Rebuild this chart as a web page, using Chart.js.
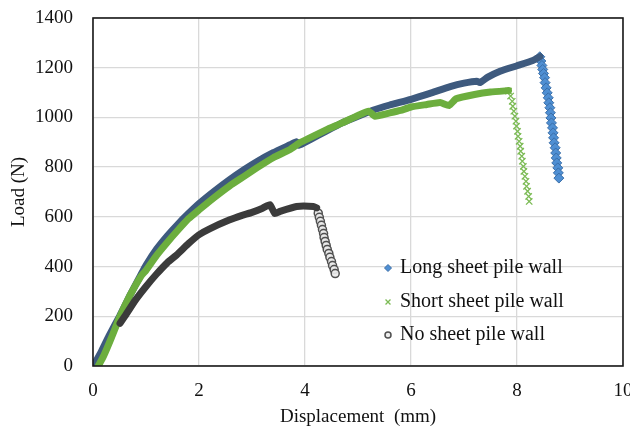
<!DOCTYPE html>
<html>
<head>
<meta charset="utf-8">
<script src="https://cdn.jsdelivr.net/npm/chart.js@4.4.1/dist/chart.umd.min.js"></script>
<style>
  html, body { margin: 0; padding: 0; background: #fff; }
  #wrap { width: 630px; height: 431px; position: relative; }
</style>
</head>
<body>
<div id="wrap"><canvas id="grafico"></canvas></div>
<script>
const xTicks = [0, 2, 4, 6, 8, 10];
const yTicks = [0, 200, 400, 600, 800, 1000, 1200, 1400];
const seriesNames = ['Long sheet pile wall', 'Short sheet pile wall', 'No sheet pile wall'];

// [displacement mm, load N]
const longBand = [[0.02, 5], [0.15, 55], [0.3, 120], [0.5, 200], [0.7, 285], [0.9, 365], [1.0, 405],
  [1.2, 470], [1.4, 523], [1.6, 570], [1.8, 613], [2.0, 653], [2.3, 705], [2.58, 750], [2.85, 790],
  [3.09, 822], [3.4, 858], [3.72, 890], [3.84, 902], [3.88, 888], [4.09, 910], [4.4, 945], [4.7, 978],
  [5.0, 1005], [5.28, 1029], [5.6, 1050], [6.0, 1073], [6.4, 1100], [6.74, 1124], [7.0, 1138],
  [7.24, 1146], [7.3, 1140], [7.45, 1162], [7.68, 1186], [8.0, 1208], [8.3, 1229], [8.43, 1244]];
const longDrop = [[8.43, 1244], [8.45, 1227], [8.47, 1209], [8.485, 1193], [8.5, 1177], [8.52, 1160],
  [8.53, 1140], [8.55, 1119], [8.57, 1099], [8.59, 1079], [8.6, 1059], [8.62, 1039], [8.63, 1019],
  [8.64, 998], [8.65, 978], [8.67, 958], [8.68, 938], [8.69, 918], [8.7, 898], [8.72, 878], [8.73, 857],
  [8.74, 837], [8.75, 817], [8.77, 797], [8.78, 777], [8.79, 756]];

const shortBand = [[0.1, 0], [0.2, 40], [0.35, 115], [0.5, 195], [0.7, 285], [0.9, 360], [1.0, 385],
  [1.2, 445], [1.4, 497], [1.58, 541], [1.8, 592], [2.0, 628], [2.3, 680], [2.58, 725], [2.85, 763],
  [3.09, 797], [3.4, 838], [3.72, 871], [3.9, 898], [4.09, 918], [4.4, 950], [4.7, 978], [5.0, 1008],
  [5.2, 1025], [5.32, 1005], [5.6, 1018], [5.8, 1028], [6.0, 1042], [6.3, 1052], [6.55, 1060],
  [6.72, 1048], [6.85, 1075], [7.2, 1092], [7.5, 1102], [7.84, 1108]];
const shortDrop = [[7.84, 1106], [7.88, 1086], [7.91, 1065], [7.92, 1045], [7.94, 1025], [7.96, 1005],
  [7.98, 985], [7.99, 965], [8.01, 944], [8.02, 924], [8.04, 904], [8.06, 884], [8.07, 864], [8.09, 844],
  [8.1, 824], [8.12, 803], [8.13, 783], [8.15, 763], [8.17, 743], [8.18, 723], [8.2, 703], [8.22, 682],
  [8.23, 662]];

const noBand = [[0.51, 172], [0.6, 200], [0.8, 265], [1.0, 320], [1.2, 370], [1.4, 415], [1.58, 447],
  [1.8, 492], [2.0, 528], [2.2, 552], [2.58, 588], [2.8, 605], [3.0, 618], [3.2, 635], [3.34, 649],
  [3.43, 613], [3.53, 622], [3.84, 642], [4.16, 642], [4.22, 636]];
const noDrop = [[4.25, 615], [4.27, 598], [4.29, 582], [4.31, 566], [4.33, 549], [4.35, 533],
  [4.36, 517], [4.38, 501], [4.4, 485], [4.42, 469], [4.45, 453], [4.47, 437], [4.5, 420], [4.52, 404],
  [4.55, 388], [4.57, 372]];

const pts = arr => arr.map(([x, y]) => ({ x, y }));

const serif = 'Liberation Serif, Times New Roman, serif';

const estilos = [
  { band: '#3e5a7e', pointStyle: 'rectRot', radius: 5, legendR: 3.5, fill: '#4f8fd3', edge: '#3a6ea8', bw: 1 },
  { band: '#6cae3e', pointStyle: 'crossRot', radius: 4.5, legendR: 3.5, fill: '#7cbb55', edge: '#7cbb55', bw: 1.3 },
  { band: '#3b3b3b', pointStyle: 'circle', radius: 4, legendR: 3, fill: 'rgba(235,235,235,0.9)', edge: '#505050', bw: 1.5 }
];

function banda(data, st, order) {
  return {
    data: pts(data), showLine: true, borderColor: st.band, borderWidth: 7, tension: 0.15,
    pointRadius: 0, borderJoinStyle: 'round', borderCapStyle: 'round', order: order
  };
}
function caida(data, st, order) {
  return {
    data: pts(data), showLine: false, pointStyle: st.pointStyle, pointRadius: st.radius,
    pointBackgroundColor: st.fill, pointBorderColor: st.edge, pointBorderWidth: st.bw, order: order
  };
}

// frame around the plot area
const marco = {
  id: 'marco',
  afterDraw(chart) {
    const { ctx, chartArea: a } = chart;
    ctx.save();
    ctx.strokeStyle = '#1a1a1a';
    ctx.lineWidth = 1.6;
    ctx.strokeRect(a.left, a.top, a.right - a.left, a.bottom - a.top);
    ctx.restore();
  }
};

// legend drawn inside the plot, lower right
const leyenda = {
  id: 'leyenda',
  afterDraw(chart) {
    const { ctx, chartArea: a } = chart;
    const offsets = [98, 64, 31];
    ctx.save();
    ctx.font = '20px ' + serif;
    ctx.textBaseline = 'middle';
    seriesNames.forEach((name, i) => {
      const st = estilos[i];
      const y = a.bottom - offsets[i];
      const x = a.right - 235;
      ctx.fillStyle = st.fill;
      ctx.strokeStyle = st.edge;
      ctx.lineWidth = st.bw;
      Chart.helpers.drawPoint(ctx, { pointStyle: st.pointStyle, radius: st.legendR, rotation: 0, borderWidth: st.bw }, x, y);
      ctx.fillStyle = '#111';
      ctx.fillText(name, x + 12, y);
    });
    ctx.restore();
  }
};

const ctx = document.getElementById('grafico').getContext('2d');
new Chart(ctx, {
  type: 'scatter',
  data: {
    datasets: [
      banda(noBand, estilos[2], 0), caida(noDrop, estilos[2], 0),
      banda(shortBand, estilos[1], 1), caida(shortDrop, estilos[1], 1),
      banda(longBand, estilos[0], 2), caida(longDrop, estilos[0], 2)
    ]
  },
  options: {
    responsive: true,
    maintainAspectRatio: false,
    animation: false,
    layout: { padding: { top: 18, right: 7, left: 0, bottom: 0 } },
    plugins: { legend: { display: false }, tooltip: { enabled: false } },
    scales: {
      x: {
        type: 'linear',
        min: xTicks[0], max: xTicks[xTicks.length - 1],
        ticks: { stepSize: xTicks[1] - xTicks[0], color: '#111', padding: 14, font: { family: serif, size: 19 }, callback: v => String(v) },
        grid: { color: '#d9d9d9', lineWidth: 1.3, drawTicks: false },
        border: { display: false },
        title: { display: true, text: 'Displacement  (mm)', color: '#111', padding: { top: 2, bottom: 3 }, font: { family: serif, size: 19 } },
        afterFit(scale) { scale.height = 65; scale.paddingLeft = 0; scale.paddingRight = 0; }
      },
      y: {
        type: 'linear',
        min: yTicks[0], max: yTicks[yTicks.length - 1],
        ticks: { stepSize: yTicks[1] - yTicks[0], color: '#111', padding: 20, font: { family: serif, size: 19 }, callback: v => String(v) },
        grid: { color: '#d9d9d9', lineWidth: 1.3, drawTicks: false },
        border: { display: false },
        title: { display: true, text: 'Load (N)', color: '#111', padding: { top: 8, bottom: 2 }, font: { family: serif, size: 19 } },
        afterFit(scale) { scale.width = 93; scale.paddingTop = 0; scale.paddingBottom = 0; }
      }
    }
  },
  plugins: [marco, leyenda]
});
</script>
</body>
</html>
